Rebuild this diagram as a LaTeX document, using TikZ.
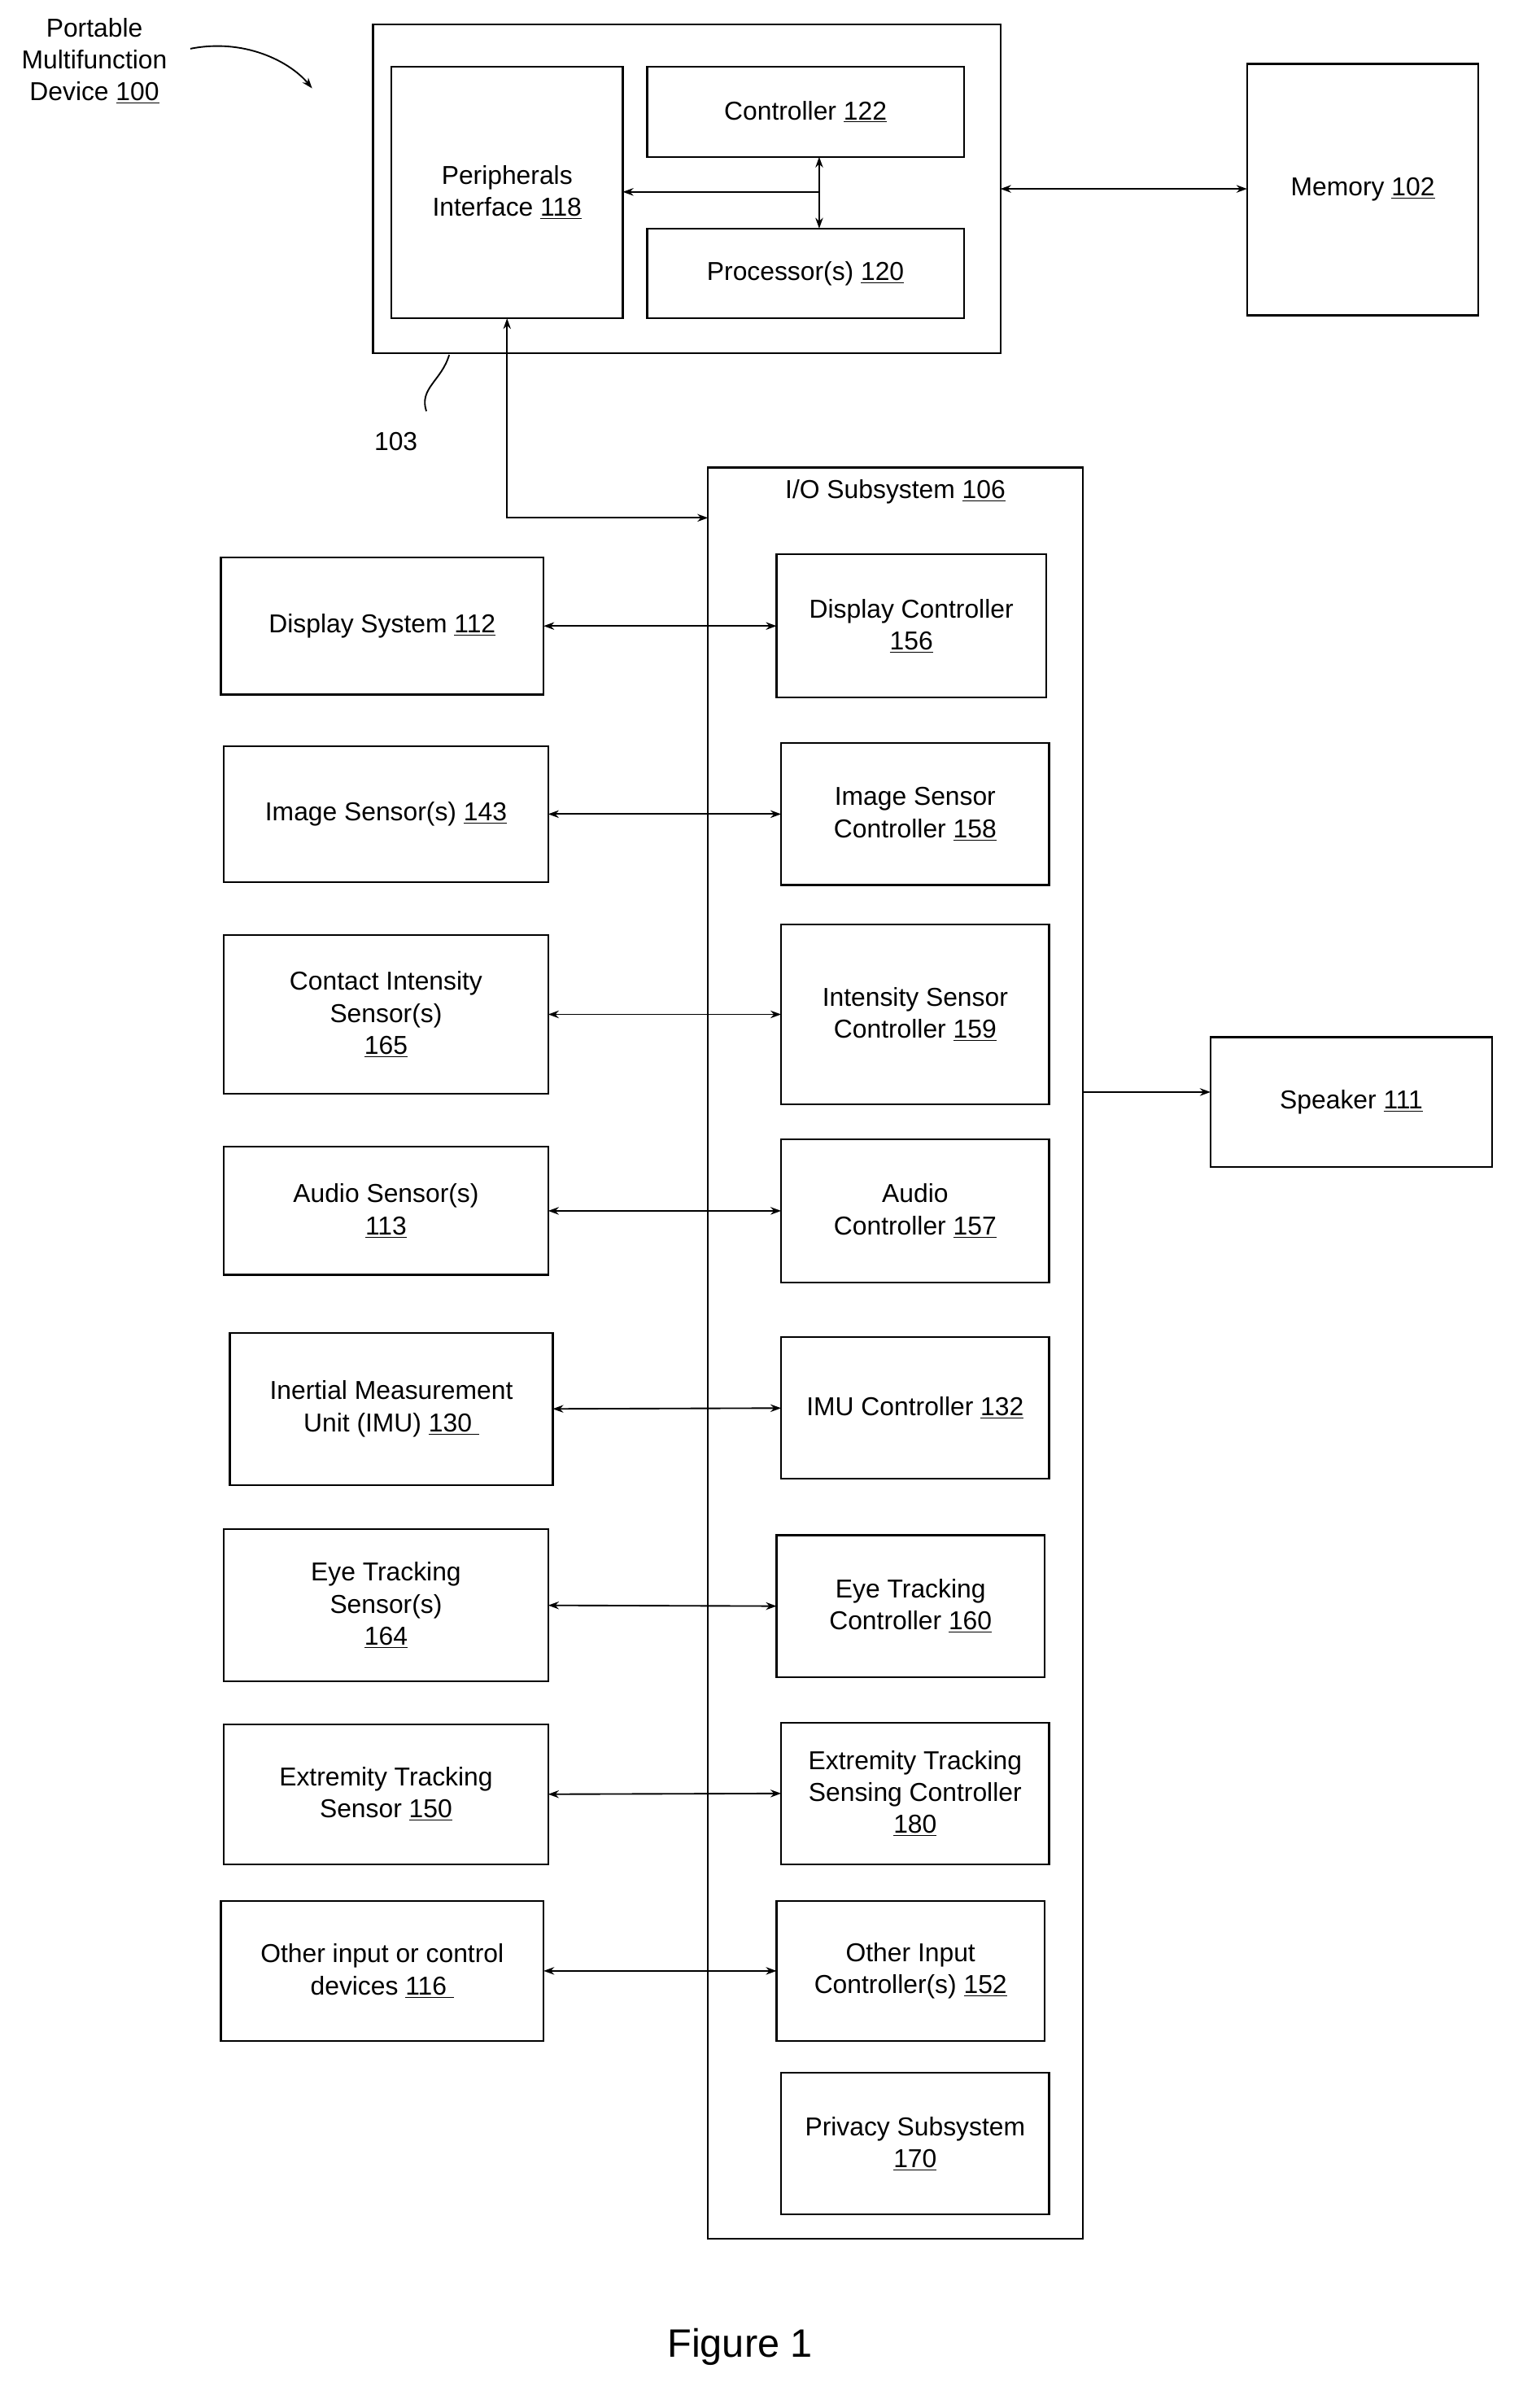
\documentclass[tikz,border=0pt]{standalone}
\usepackage{fontspec}
\setmainfont{Liberation Sans}
\usetikzlibrary{arrows.meta}
\newcommand{\un}[1]{\underline{#1}}
\begin{document}
\begin{tikzpicture}[x=1pt,y=-1pt,
  bx/.style={draw,line width=1.2pt},
  t/.style={font=\fontsize{17}{21}\selectfont,align=center},
  ar/.style={{Stealth[length=7pt,width=5pt]}-{Stealth[length=7pt,width=5pt]},line width=1pt},
  sa/.style={-{Stealth[length=7pt,width=5pt]},line width=1pt}]
\useasboundingbox (0,0) rectangle (1000,1581);
\newcommand{\bb}[6]{\draw[bx] (#2,#3) rectangle (#4,#5); \node[t] (#1) at ({(#2+#4)/2},{(#3+#5)/2}) {#6};
  \coordinate (#1L) at (#2,{(#3+#5)/2}); \coordinate (#1R) at (#4,{(#3+#5)/2});}
\draw[bx] (245,16) rectangle (657,232);
\coordinate (outR) at (657,124);
\bb{per}{257}{44}{409}{209}{Peripherals\\Interface \un{118}}
\bb{ctl}{425}{44}{633}{103}{Controller \un{122}}
\bb{pro}{425}{150}{633}{209}{Processor(s) \un{120}}
\bb{mem}{819}{42}{971}{207}{Memory \un{102}}
\draw[ar] (outR) -- (819,124);
\coordinate (bj) at (538,126);
\draw[ar] (538,103) -- (538,150);
\draw[sa] (bj) -- (409,126);
\node[t] (lab103) at (260,290) {103};
\draw[line width=1pt] (295,233) .. controls (290,250) and (275,255) .. (280,270);
\node[t] (pmd) at (62,40) {Portable\\Multifunction\\Device \un{100}};
\draw[sa] (125,32) .. controls (160,25) and (190,40) .. (205,58);
\draw[bx] (465,307) rectangle (711,1470);
\node[t] (io) at (588,323) {I/O Subsystem \un{106}};
\draw[sa] (333,255) -- (333,340) -- (465,340);
\draw[sa] (333,260) -- (333,209);
\bb{ds}{145}{366}{357}{456}{Display System \un{112}}
\bb{dc}{510}{364}{687}{458}{Display Controller\\\un{156}}
\bb{is}{147}{490}{360}{579}{Image Sensor(s) \un{143}}
\bb{ic}{513}{488}{689}{581}{Image Sensor\\Controller \un{158}}
\bb{cs}{147}{614}{360}{718}{Contact Intensity\\Sensor(s)\\\un{165}}
\bb{cc}{513}{607}{689}{725}{Intensity Sensor\\Controller \un{159}}
\bb{as}{147}{753}{360}{837}{Audio Sensor(s)\\\un{113}}
\bb{ac}{513}{748}{689}{842}{Audio\\Controller \un{157}}
\bb{ms}{151}{875}{363}{975}{Inertial Measurement\\Unit (IMU) \un{130\ }}
\bb{mc}{513}{878}{689}{971}{IMU Controller \un{132}}
\bb{es}{147}{1004}{360}{1104}{Eye Tracking\\Sensor(s)\\\un{164}}
\bb{ec}{510}{1008}{686}{1101}{Eye Tracking\\Controller \un{160}}
\bb{xs}{147}{1132}{360}{1224}{Extremity Tracking\\Sensor \un{150}}
\bb{xc}{513}{1131}{689}{1224}{Extremity Tracking\\Sensing Controller\\\un{180}}
\bb{os}{145}{1248}{357}{1340}{Other input or control\\devices \un{116\ }}
\bb{oc}{510}{1248}{686}{1340}{Other Input\\Controller(s) \un{152}}
\bb{pv}{513}{1361}{689}{1454}{Privacy Subsystem\\\un{170}}
\bb{sp}{795}{681}{980}{766}{Speaker \un{111}}
\draw[ar] (dsR) -- (dcL);
\draw[ar] (isR) -- (icL);
\draw[ar] (csR) -- (ccL);
\draw[ar] (asR) -- (acL);
\draw[ar] (msR) -- (mcL);
\draw[ar] (esR) -- (ecL);
\draw[ar] (xsR) -- (xcL);
\draw[ar] (osR) -- (ocL);
\coordinate (ioR) at (711,717);
\draw[sa] (ioR) -- (795,717);
\node[font=\fontsize{26}{30}\selectfont] (fig) at (486,1541) {Figure 1};
\end{tikzpicture}
\end{document}
